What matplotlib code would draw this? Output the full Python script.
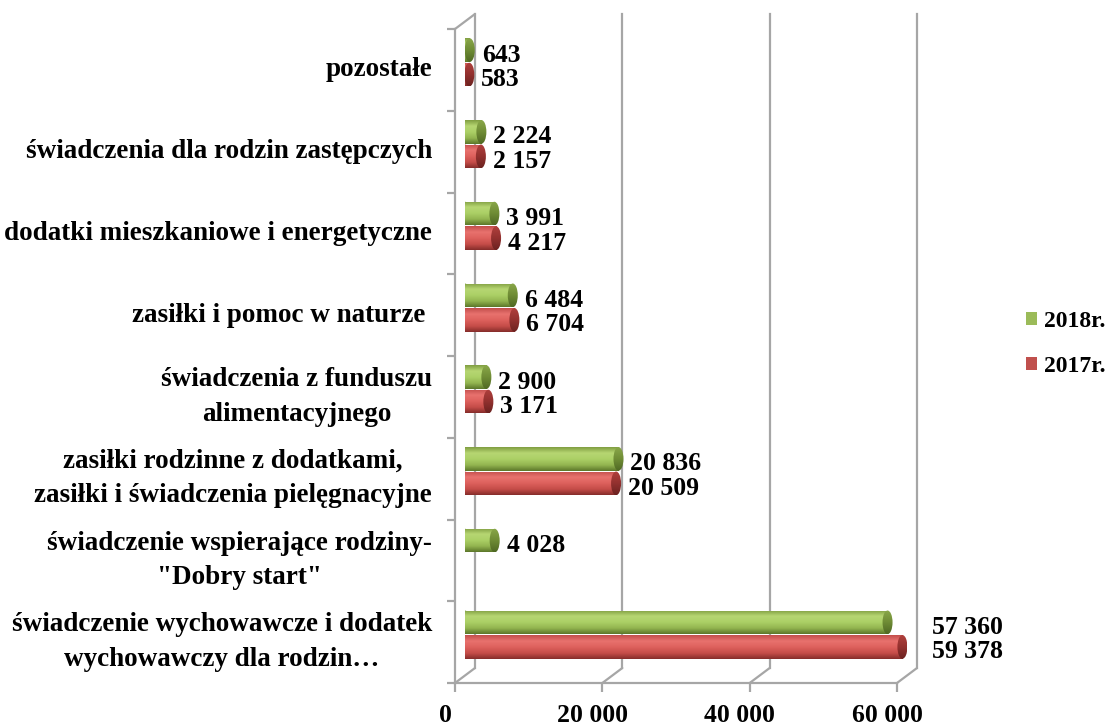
import numpy as np
import matplotlib
matplotlib.use("Agg")
import matplotlib.pyplot as plt
from matplotlib.patches import Ellipse, Patch, ConnectionPatch
from matplotlib.colors import LinearSegmentedColormap

# dane
categories = [
    "świadczenie wychowawcze i dodatek\nwychowawczy dla rodzin…",
    "świadczenie wspierające rodziny-\n\"Dobry start\"",
    "zasiłki rodzinne z dodatkami,\nzasiłki i świadczenia pielęgnacyjne",
    "świadczenia z funduszu\nalimentacyjnego",
    "zasiłki i pomoc w naturze ",
    "dodatki mieszkaniowe i energetyczne",
    "świadczenia dla rodzin zastępczych",
    "pozostałe",
]
values_2018 = [57360, 4028, 20836, 2900, 6484, 3991, 2224, 643]
values_2017 = [59378, np.nan, 20509, 3171, 6704, 4217, 2157, 583]
series_names = ["2018r.", "2017r."]
x_ticks = [0, 20000, 40000, 60000]
x_tick_labels = ["0", "20 000", "40 000", "60 000"]

W, H, DPI = 1115, 727, 100
XMAX = 60000
GRAY = "#a6a6a6"
FS = 18.5      # liczby
FS_CAT = 19.5  # opisy kategorii

plt.rcParams['font.family'] = ['Liberation Serif', 'DejaVu Serif']
plt.rcParams['font.weight'] = 'bold'

fig = plt.figure(figsize=(W / DPI, H / DPI), dpi=DPI)


def px_rect(left, top, right, bottom):
    return [left / W, 1 - bottom / H, (right - left) / W, (bottom - top) / H]


def pt(px):
    return px * 72.0 / DPI


# przednia krawedz, tylna sciana, glebokosc slupkow
FL, FT, FR, FB = 455, 29, 897, 683
DX, DY = 20, 15
BX, BY = 10, 7.5

ax_back = fig.add_axes(px_rect(FL + DX, FT - DY, FR + DX, FB - DY))
ax = fig.add_axes(px_rect(FL, FT, FR, FB))
ax_bar = fig.add_axes(px_rect(FL + BX, FT - BY, FR + BX, FB - BY))

n = len(categories)
for a in (ax_back, ax, ax_bar):
    a.set_xlim(0, XMAX)
    a.set_ylim(-0.5, n - 0.5)
    a.patch.set_visible(False)

# tylna sciana
for x in x_ticks:
    ax_back.plot([x, x], [-0.5, n - 0.5], color=GRAY, lw=1.6, clip_on=False)
ax_back.axis("off")

# przednie osie
for s in ("top", "right"):
    ax.spines[s].set_visible(False)
for s in ("left", "bottom"):
    ax.spines[s].set_color(GRAY)
    ax.spines[s].set_linewidth(1.6)
ax.set_xticks(x_ticks)
ax.set_xticklabels([])
ax.set_yticks(np.arange(-0.5, n, 1))
ax.set_yticklabels([])
ax.tick_params(axis="y", direction="out", length=pt(8), width=1.6, color=GRAY)
ax.tick_params(axis="x", direction="out", length=pt(9), width=1.6, color=GRAY)

# linie laczace przod z tylem
for x in x_ticks:
    fig.add_artist(ConnectionPatch((x, -0.5), (x, -0.5), coordsA=ax.transData,
                                   coordsB=ax_back.transData, color=GRAY, lw=1.6))
fig.add_artist(ConnectionPatch((0, n - 0.5), (0, n - 0.5), coordsA=ax.transData,
                               coordsB=ax_back.transData, color=GRAY, lw=1.6))

for x, lbl in zip(x_ticks, x_tick_labels):
    ax.annotate(lbl, xy=(x, -0.5), xytext=(pt(-10), pt(-33)), textcoords="offset points",
                ha="center", va="center", fontsize=FS, annotation_clip=False)

for i, lbl in enumerate(categories):
    ax.annotate(lbl, xy=(0, i), xytext=(pt(-23), 0), textcoords="offset points",
                ha="right", va="center", multialignment="center", fontsize=FS_CAT,
                linespacing=1.5, annotation_clip=False)

# slupki cylindryczne
green = LinearSegmentedColormap.from_list("g", ["#7f9d40", "#b6d672", "#acd066", "#93b550", "#5b7629"])
green_cap = LinearSegmentedColormap.from_list("gc", ["#8aa84a", "#6f8c35", "#4f6823"])
red = LinearSegmentedColormap.from_list("r", ["#c24e4b", "#e8726e", "#de615d", "#c64d49", "#842c2a"])
red_cap = LinearSegmentedColormap.from_list("rc", ["#b0403d", "#93312f", "#6b2220"])
grad = np.linspace(0, 1, 256).reshape(-1, 1)

bh = 0.29
off = 0.15
capw = 10 * XMAX / (FR - FL)

y_pos = np.arange(n)
series = [(values_2018, y_pos + off, green, green_cap),
          (values_2017, y_pos - off, red, red_cap)]

for vals, ys, cmap, ccap in series:
    bars = ax_bar.barh(ys, np.nan_to_num(vals), height=bh, color="none", edgecolor="none")
    for rect, v, yc in zip(bars, vals, ys):
        if np.isnan(v):
            continue
        y0, y1 = yc - bh / 2, yc + bh / 2
        left = Ellipse((0, yc), capw, bh, facecolor="none", edgecolor="none")
        ax_bar.add_patch(left)
        im = ax_bar.imshow(grad, cmap=cmap, extent=(-capw, capw, y0, y1), aspect="auto",
                           origin="upper", zorder=2)
        im.set_clip_path(left)
        im = ax_bar.imshow(grad, cmap=cmap, extent=(0, v, y0, y1), aspect="auto",
                           origin="upper", zorder=3)
        im.set_clip_path(rect)
        right = Ellipse((v, yc), capw, bh, facecolor="none", edgecolor="none")
        ax_bar.add_patch(right)
        im = ax_bar.imshow(grad, cmap=ccap, extent=(v - capw, v + capw, y0, y1), aspect="auto",
                           origin="upper", zorder=4)
        im.set_clip_path(right)

        txt = f"{int(v):,}".replace(",", " ")
        if v > 0.85 * XMAX:
            xa, dx = XMAX, 25
        else:
            xa, dx = v, 12
        ax_bar.annotate(txt, xy=(xa, yc), xytext=(pt(dx), pt(-5)), textcoords="offset points",
                        ha="left", va="center", fontsize=FS, annotation_clip=False, zorder=5)

ax_bar.set_xlim(0, XMAX)
ax_bar.set_ylim(-0.5, n - 0.5)
ax_bar.axis("off")

fig.legend(handles=[Patch(facecolor="#9bbb59"), Patch(facecolor="#c0504d")],
           labels=series_names, loc="center left", bbox_to_anchor=(1026 / W, 1 - 344 / H),
           frameon=False, prop={"weight": "bold", "size": 17}, handlelength=0.45,
           handleheight=0.45, handletextpad=0.3, labelspacing=1.0, borderpad=0,
           borderaxespad=0)

fig.savefig("out.png", dpi=DPI)
